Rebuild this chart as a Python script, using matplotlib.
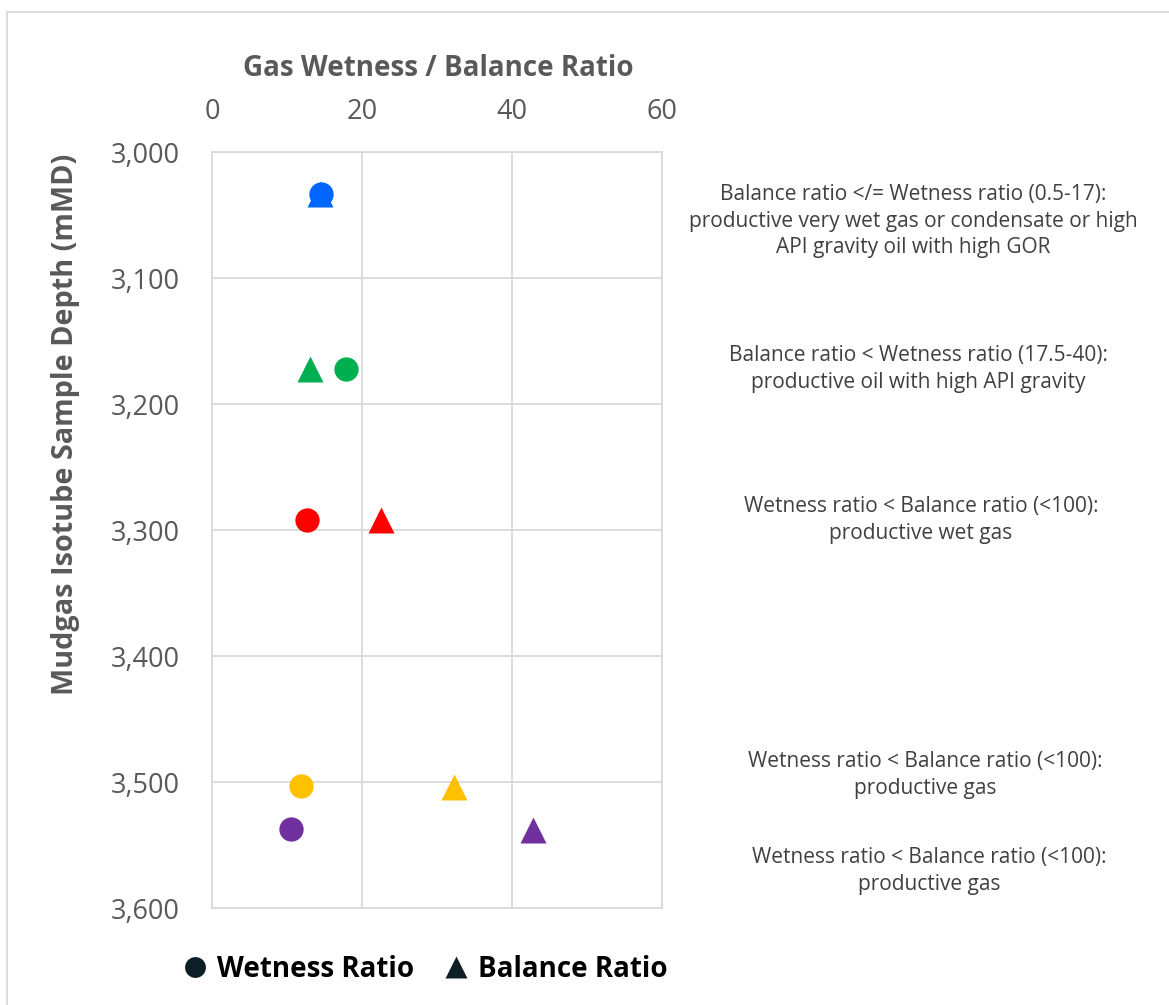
import matplotlib
matplotlib.use("Agg")
import matplotlib.pyplot as plt
from matplotlib.lines import Line2D

plt.rcParams['font.family'] = ['Open Sans', 'DejaVu Sans']

# sample data
depth = [3033, 3172, 3292, 3503, 3537]
wetness = [14.5, 17.9, 12.7, 11.9, 10.5]
balance = [14.4, 13.1, 22.5, 32.2, 42.8]
depth_bal = [3033, 3172, 3292, 3504, 3538]
colors = ['#0066FF', '#00B050', '#FF0000', '#FFC000', '#7030A0']

notes = [
    "Balance ratio </= Wetness ratio (0.5-17):\nproductive very wet gas or condensate or high\nAPI gravity oil with high GOR",
    "Balance ratio < Wetness ratio (17.5-40):\nproductive oil with high API gravity",
    "Wetness ratio < Balance ratio (<100):\nproductive wet gas",
    "Wetness ratio < Balance ratio (<100):\nproductive gas",
    "Wetness ratio < Balance ratio (<100):\nproductive gas",
]
note_pos = [(913, 221), (918, 369), (921, 520), (925, 775), (929, 871)]

x_ticks = [0, 20, 40, 60]
y_ticks = [3000, 3100, 3200, 3300, 3400, 3500, 3600]

W, H = 1169, 1005
fig = plt.figure(figsize=(W / 100, H / 100), dpi=100)
ax = fig.add_axes([212 / W, 1 - 908 / H, 450 / W, 756 / H])

grey = '#595959'
grid = '#D9D9D9'

for x, y, c in zip(balance, depth_bal, colors):
    ax.plot(x, y, marker='^', ms=18.5, color=c, mec='none', ls='none', zorder=3)
for x, y, c in zip(wetness, depth, colors):
    ax.plot(x, y, marker='o', ms=17.5, color=c, mec='none', ls='none', zorder=4)

ax.set_xlim(0, 60)
ax.set_ylim(3600, 3000)
ax.set_xticks(x_ticks)
ax.set_yticks(y_ticks)
ax.set_yticklabels([f"{v:,}" for v in y_ticks])
ax.xaxis.tick_top()
ax.tick_params(axis='both', length=0, labelsize=19.5, colors=grey)
ax.tick_params(axis='x', pad=19)
ax.tick_params(axis='y', pad=23)
ax.grid(True, color=grid, lw=1.3)
ax.set_axisbelow(True)
for s in ax.spines.values():
    s.set_color(grid)
    s.set_linewidth(1.3)

fig.text(438 / W, 1 - 68 / H, "Gas Wetness / Balance Ratio", ha='center', va='center',
         fontsize=20, fontweight='bold', color=grey)
fig.text(66 / W, 1 - 424 / H, "Mudgas Isotube Sample Depth (mMD)", ha='center', va='center',
         rotation=90, fontsize=20.8, fontweight='bold', color=grey)

for txt, (px, py) in zip(notes, note_pos):
    fig.text(px / W, 1 - py / H, txt, ha='center', va='center', fontsize=15,
             color='#404040', linespacing=1.34)

# legend
dark = '#0E1E26'
handles = [
    Line2D([], [], marker='o', ls='none', ms=15, color=dark, mec='none', label='Wetness Ratio'),
    Line2D([], [], marker='^', ls='none', ms=16, color=dark, mec='none', label='Balance Ratio'),
]
leg = fig.legend(handles=handles, loc='center', bbox_to_anchor=(424 / W, 1 - 969 / H),
                 ncol=2, frameon=False, handletextpad=0.3, columnspacing=1.0,
                 handlelength=1.0, prop={'size': 20, 'weight': 'bold'})
for t in leg.get_texts():
    t.set_color('black')

# outer chart border (top and left edges visible)
fig.add_artist(Line2D([7 / W, 1], [1 - 12 / H, 1 - 12 / H], color=grid, lw=1.3))
fig.add_artist(Line2D([7 / W, 7 / W], [0, 1 - 12 / H], color=grid, lw=1.3))

fig.savefig("out.png", dpi=100)
